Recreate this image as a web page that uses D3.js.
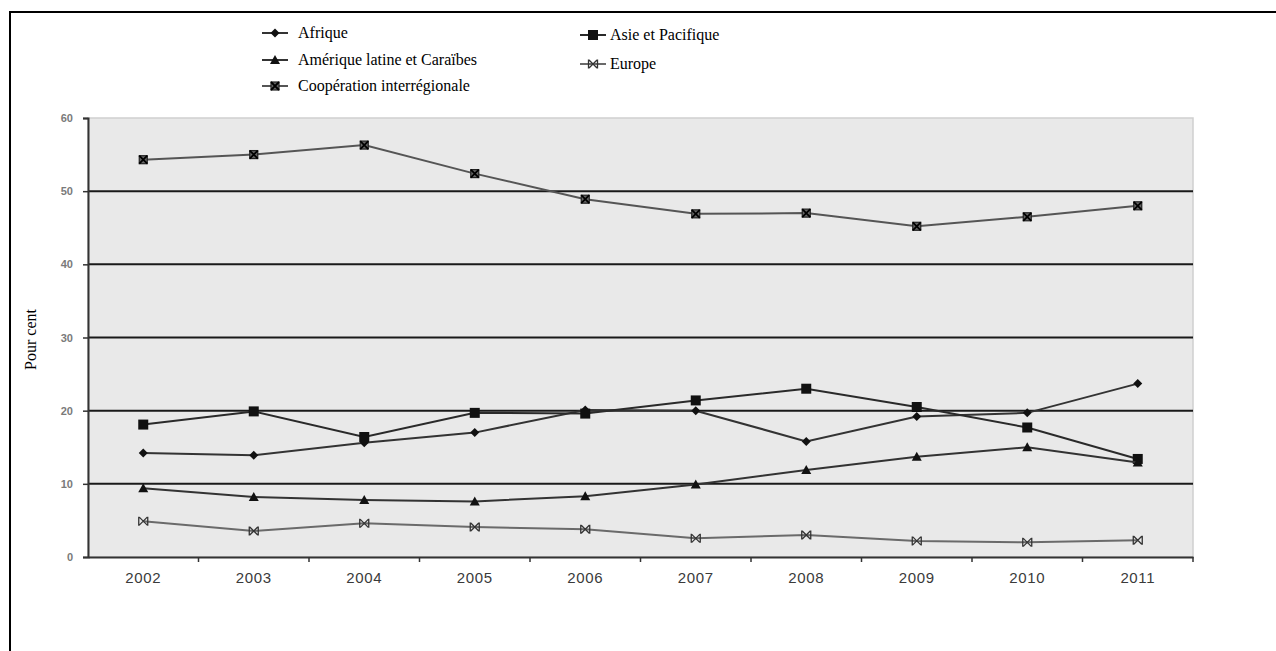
<!DOCTYPE html>
<html>
<head>
<meta charset="utf-8">
<script src="https://cdn.jsdelivr.net/npm/d3@7"></script>
<style>
  body { margin: 0; background: #fff; }
  svg { display: block; }
</style>
</head>
<body>
<div id="chart"></div>
<script>
'use strict';

const years = ['2002', '2003', '2004', '2005', '2006', '2007', '2008', '2009', '2010', '2011'];
const yTicks = [0, 10, 20, 30, 40, 50, 60];

const afrique = [14.2, 13.9, 15.6, 17.0, 20.1, 20.0, 15.8, 19.2, 19.7, 23.7];
const asiePacifique = [18.1, 19.9, 16.4, 19.7, 19.6, 21.4, 23.0, 20.5, 17.7, 13.4];
const ameriqueLatine = [9.4, 8.2, 7.8, 7.6, 8.3, 9.9, 11.9, 13.7, 15.0, 12.9];
const europe = [4.9, 3.55, 4.6, 4.1, 3.8, 2.55, 3.0, 2.2, 2.0, 2.3];
const cooperation = [54.3, 55.0, 56.3, 52.4, 48.9, 46.9, 47.0, 45.2, 46.5, 48.0];

const series = [
  {name: 'Afrique', values: afrique, marker: 'diamond', color: '#333'},
  {name: 'Asie et Pacifique', values: asiePacifique, marker: 'square', color: '#2a2a2a'},
  {name: 'Amérique latine et Caraïbes', values: ameriqueLatine, marker: 'triangle', color: '#333'},
  {name: 'Europe', values: europe, marker: 'xbar', color: '#6a6a6a'},
  {name: 'Coopération interrégionale', values: cooperation, marker: 'starbox', color: '#555'}
];

const W = 1276, H = 651;
const plot = {left: 88, top: 118, right: 1193, bottom: 557};

const svg = d3.select('#chart').append('svg')
  .attr('width', W)
  .attr('height', H);

// outer frame (only left and top edges fall inside the window)
svg.append('rect')
  .attr('x', 10).attr('y', 12)
  .attr('width', W + 20).attr('height', H + 20)
  .attr('fill', 'none').attr('stroke', '#000').attr('stroke-width', 2);

const x = d3.scaleBand().domain(years).range([plot.left, plot.right]);
const y = d3.scaleLinear().domain([0, 60]).range([plot.bottom, plot.top]);

// plot background
svg.append('rect')
  .attr('x', plot.left).attr('y', plot.top)
  .attr('width', plot.right - plot.left).attr('height', plot.bottom - plot.top)
  .attr('fill', '#e9e9e9').attr('stroke', '#cfcfcf').attr('stroke-width', 1.5);

// gridlines
svg.append('g').selectAll('line')
  .data(yTicks.filter(d => d > 0 && d < 60))
  .join('line')
  .attr('x1', plot.left).attr('x2', plot.right)
  .attr('y1', d => y(d)).attr('y2', d => y(d))
  .attr('stroke', '#1a1a1a').attr('stroke-width', 2);

// y axis
const yAxis = svg.append('g')
  .attr('transform', `translate(${plot.left},0)`)
  .call(d3.axisLeft(y).tickValues(yTicks).tickSize(5).tickPadding(10));
yAxis.select('.domain').attr('stroke', '#333').attr('stroke-width', 2);
yAxis.selectAll('.tick line').attr('stroke', '#333').attr('stroke-width', 1.5);
yAxis.selectAll('.tick text')
  .attr('font-family', 'Arial, "Liberation Sans", sans-serif')
  .attr('font-size', 11).attr('font-weight', 'bold').attr('fill', '#7a7a7a');

// x axis, ticks between categories
const xAxis = svg.append('g')
  .attr('transform', `translate(0,${plot.bottom})`)
  .call(d3.axisBottom(x).tickSize(0).tickPadding(15));
xAxis.select('.domain').attr('stroke', '#333').attr('stroke-width', 2);
xAxis.selectAll('.tick text')
  .attr('font-family', 'Arial, "Liberation Sans", sans-serif')
  .attr('font-size', 15).attr('letter-spacing', 0.6).attr('fill', '#3a3a3a');
xAxis.selectAll('line.sep')
  .data(years.slice(1).concat(['end']))
  .join('line')
  .attr('class', 'sep')
  .attr('x1', (d, i) => i < years.length - 1 ? x(d) : plot.right)
  .attr('x2', (d, i) => i < years.length - 1 ? x(d) : plot.right)
  .attr('y1', 0).attr('y2', 5)
  .attr('stroke', '#333').attr('stroke-width', 1.5);

// y axis title
svg.append('text')
  .attr('transform', `translate(36,${(plot.top + plot.bottom) / 2 + 2}) rotate(-90)`)
  .attr('text-anchor', 'middle')
  .attr('font-family', '"Liberation Serif", "Times New Roman", serif')
  .attr('font-size', 16)
  .text('Pour cent');

function drawMarker(g, type) {
  if (type === 'diamond') {
    g.append('path').attr('d', 'M0,-4.5L4.5,0L0,4.5L-4.5,0Z').attr('fill', '#111');
  } else if (type === 'square') {
    g.append('rect').attr('x', -5).attr('y', -5).attr('width', 10).attr('height', 10).attr('fill', '#111');
  } else if (type === 'triangle') {
    g.append('path').attr('d', 'M0,-5L5,4L-5,4Z').attr('fill', '#111');
  } else if (type === 'starbox') {
    g.append('rect').attr('x', -4).attr('y', -4).attr('width', 8).attr('height', 8)
      .attr('fill', '#666').attr('stroke', '#222').attr('stroke-width', 1.2);
    g.append('path').attr('d', 'M-4,-4L4,4M4,-4L-4,4').attr('stroke', '#000').attr('stroke-width', 1.8);
  } else if (type === 'xbar') {
    g.append('path').attr('d', 'M-4,-4L4,4M4,-4L-4,4M-4.5,-4.5L-4.5,4.5M4.5,-4.5L4.5,4.5')
      .attr('stroke', '#333').attr('stroke-width', 1.3).attr('fill', 'none');
  }
}

const line = d3.line()
  .x((d, i) => x(years[i]) + x.bandwidth() / 2)
  .y(d => y(d));

series.forEach(s => {
  svg.append('path')
    .datum(s.values)
    .attr('d', line)
    .attr('fill', 'none')
    .attr('stroke', s.color)
    .attr('stroke-width', 2);
  s.values.forEach((v, i) => {
    const g = svg.append('g')
      .attr('transform', `translate(${x(years[i]) + x.bandwidth() / 2},${y(v)})`);
    drawMarker(g, s.marker);
  });
});

// legend
const legendItems = [
  {s: series[0], lx: 262, ly: 33},
  {s: series[2], lx: 262, ly: 60},
  {s: series[4], lx: 262, ly: 86},
  {s: series[1], lx: 580, ly: 35},
  {s: series[3], lx: 580, ly: 64}
];

legendItems.forEach(item => {
  const g = svg.append('g').attr('transform', `translate(${item.lx},${item.ly})`);
  g.append('line').attr('x1', 0).attr('x2', 26).attr('y1', 0).attr('y2', 0)
    .attr('stroke', item.s.color).attr('stroke-width', 2);
  drawMarker(g.append('g').attr('transform', 'translate(13,0)'), item.s.marker);
  g.append('text')
    .attr('x', item.lx < 400 ? 36 : 30).attr('y', 0).attr('dy', '0.33em')
    .attr('font-family', '"Liberation Serif", "Times New Roman", serif')
    .attr('font-size', 16)
    .text(item.s.name);
});
</script>
</body>
</html>
